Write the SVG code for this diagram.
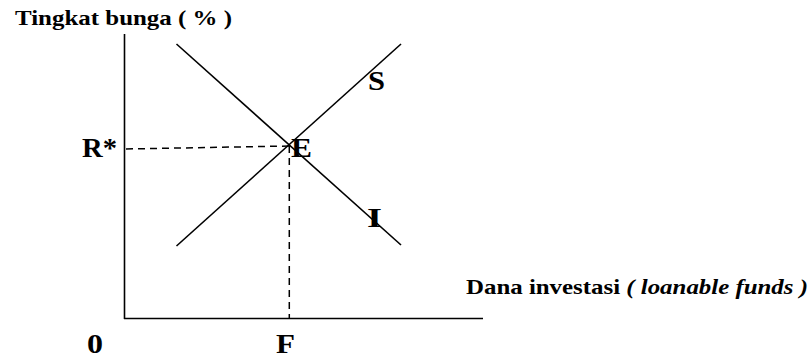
<svg xmlns="http://www.w3.org/2000/svg" width="812" height="358" viewBox="0 0 812 358">
<style>
.ax{stroke:#000;stroke-width:1.6;fill:none}
.ln{stroke:#000;stroke-width:1.6;fill:none}
.dash{stroke:#000;stroke-width:1.5;fill:none;stroke-dasharray:7 5}
text{font-weight:bold;fill:#000}
.lbl{font-size:22px}
.big{font-size:28px}
</style>
<rect width="812" height="358" fill="#fff"/>
<g id="axes">
<line class="ax" x1="124.5" y1="34" x2="124.5" y2="319"/>
<line class="ax" x1="124" y1="318.5" x2="483" y2="318.5"/>
</g>
<g id="connectors">
<line class="ln" x1="176.5" y1="44" x2="401" y2="245"/>
<line class="ln" x1="176.5" y1="246" x2="401" y2="44"/>
<line class="dash" x1="126" y1="149" x2="289" y2="146"/>
<line class="dash" x1="289.3" y1="146" x2="289.3" y2="318"/>
</g>
<g font-family="Liberation Serif, Times New Roman, serif">
<g id="label-y"><text class="lbl" x="15" y="25" textLength="217" lengthAdjust="spacingAndGlyphs">Tingkat bunga ( % )</text></g>
<g id="label-x"><text class="lbl" x="466" y="294" textLength="342" lengthAdjust="spacingAndGlyphs">Dana investasi <tspan font-style="italic">( loanable funds )</tspan></text></g>
<g id="label-R"><text class="big" x="82" y="157" textLength="35" lengthAdjust="spacingAndGlyphs">R*</text></g>
<g id="label-E"><text class="big" x="291" y="157" textLength="21" lengthAdjust="spacingAndGlyphs">E</text></g>
<g id="label-S"><text class="big" x="368" y="90" textLength="17" lengthAdjust="spacingAndGlyphs">S</text></g>
<g id="label-I"><text class="big" x="367" y="227" textLength="15" lengthAdjust="spacingAndGlyphs">I</text></g>
<g id="label-0"><text class="big" x="87" y="353" textLength="16" lengthAdjust="spacingAndGlyphs">0</text></g>
<g id="label-F"><text class="big" x="276" y="353" textLength="19" lengthAdjust="spacingAndGlyphs">F</text></g>
</g>
</svg>
